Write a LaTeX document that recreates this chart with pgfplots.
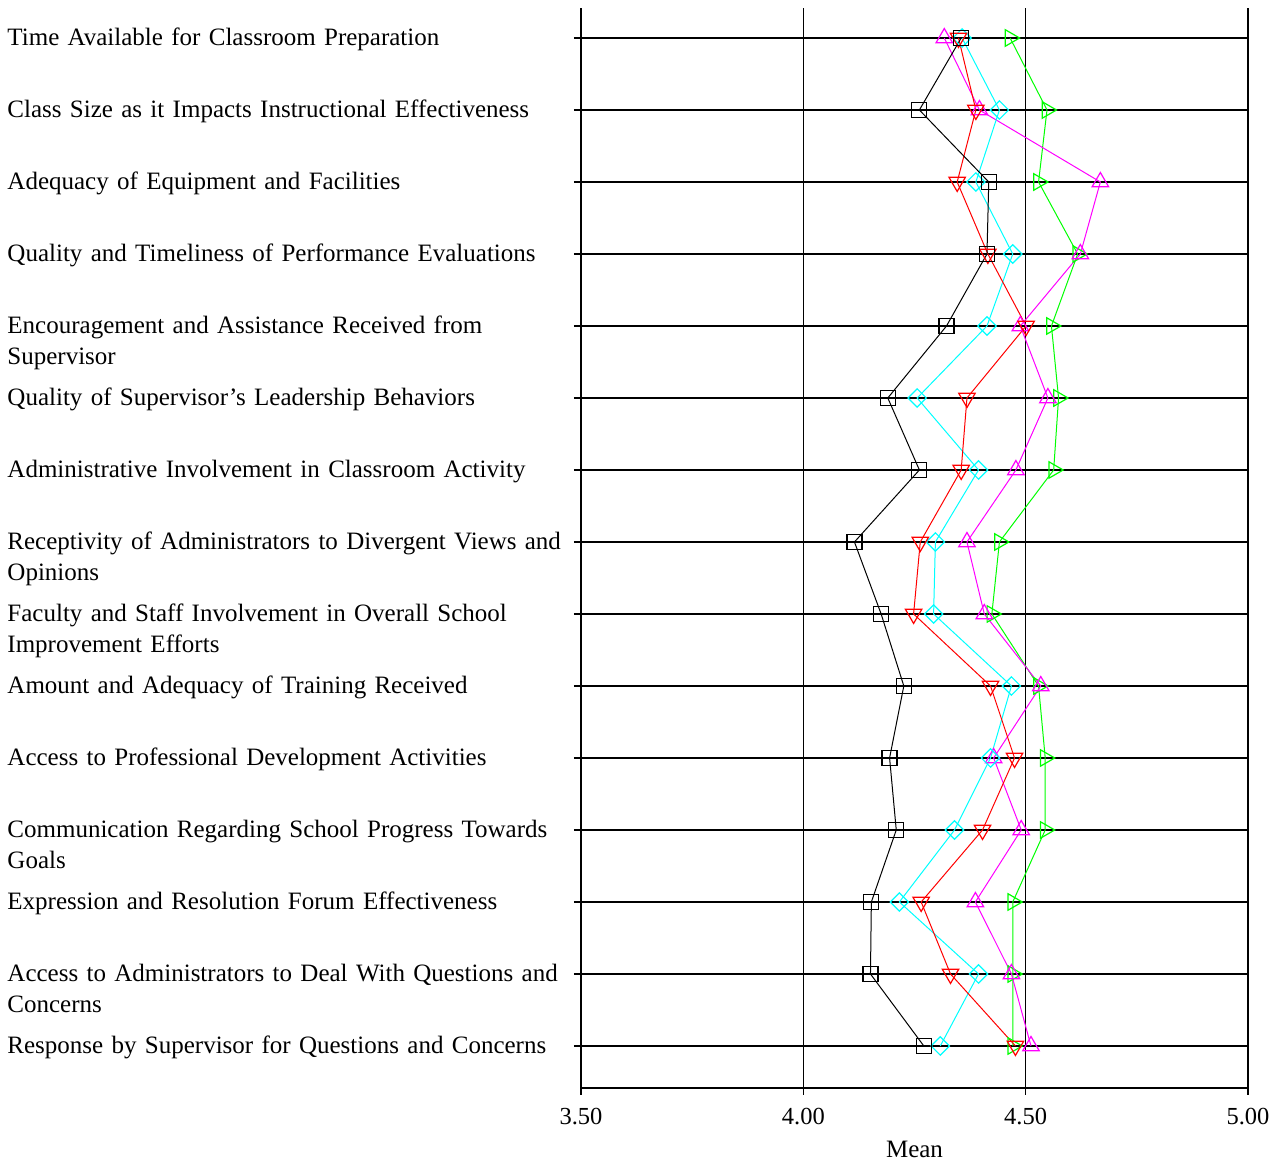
\documentclass[border=0pt]{standalone}
\usepackage{fontspec}
\setmainfont{Liberation Serif}
\usepackage{pgfplots}
\pgfplotsset{compat=1.18}
\definecolor{cgreen}{RGB}{0,255,0}
\definecolor{cmag}{RGB}{255,0,255}
\definecolor{ccyan}{RGB}{0,255,255}
\definecolor{cred}{RGB}{255,0,0}
\begin{document}
\begin{tikzpicture}
\begin{axis}[
 name=ax,
 scale only axis, width=667pt, height=1080pt,
 xmin=3.5, xmax=5, ymin=0.4167, ymax=15.4167,
 axis lines*=left,
 axis line style={black, line width=1.3pt},
 xtick={3.5,4,4.5,5},
 ytick={1,...,15},
 yticklabels={
 Response by Supervisor for Questions and Concerns,
 Access to Administrators to Deal With Questions and\\Concerns,
 Expression and Resolution Forum Effectiveness,
 Communication Regarding School Progress Towards\\Goals,
 Access to Professional Development Activities,
 Amount and Adequacy of Training Received,
 Faculty and Staff Involvement in Overall School\\Improvement Efforts,
 Receptivity of Administrators to Divergent Views and\\Opinions,
 Administrative Involvement in Classroom Activity,
 Quality of Supervisor's Leadership Behaviors,
 Encouragement and Assistance Received from\\Supervisor,
 Quality and Timeliness of Performance Evaluations,
 Adequacy of Equipment and Facilities,
 Class Size as it Impacts Instructional Effectiveness,
 Time Available for Classroom Preparation},
 xmajorgrids, ymajorgrids,
 grid style={black, line width=1.3pt},
 tick style={black, line width=1.3pt},
 tick align=outside,
 major tick length=7pt,
 x tick label style={/pgf/number format/.cd, fixed, fixed zerofill, precision=2, assume math mode=true, /tikz/.cd, font=\fontsize{24.5}{29}\selectfont, yshift=-10pt},
 y tick label style={font=\fontsize{25}{31}\selectfont, anchor=base east, text width=563pt, align=left, yshift=-8pt},
 xlabel={Mean},
 xlabel style={font=\fontsize{25}{29}\selectfont, yshift=-9pt},
 clip=false,
]
\addplot[cgreen, line width=1pt, mark=triangle, mark size=9.5pt, mark options={rotate=-90, line width=1.2pt}] coordinates {
(4.471,1) (4.471,2) (4.471,3) (4.544,4) (4.544,5) (4.529,6) (4.424,7) (4.441,8) (4.563,9) (4.574,10) (4.558,11) (4.617,12) (4.529,13) (4.548,14) (4.465,15)};
\addplot[cmag, line width=1pt, mark=triangle, mark size=9.5pt, mark options={line width=1.2pt}] coordinates {
(4.512,1) (4.468,2) (4.387,3) (4.490,4) (4.428,5) (4.534,6) (4.407,7) (4.368,8) (4.478,9) (4.550,10) (4.488,11) (4.623,12) (4.668,13) (4.396,14) (4.317,15)};
\addplot[ccyan, line width=1pt, mark=square, mark size=6.5pt, mark options={rotate=45, line width=1.2pt}] coordinates {
(4.308,1) (4.394,2) (4.216,3) (4.340,4) (4.421,5) (4.468,6) (4.293,7) (4.297,8) (4.394,9) (4.256,10) (4.413,11) (4.471,12) (4.388,13) (4.441,14) (4.357,15)};
\addplot[cred, line width=1pt, mark=triangle, mark size=9.5pt, mark options={rotate=180, line width=1.2pt}] coordinates {
(4.477,1) (4.331,2) (4.265,3) (4.403,4) (4.475,5) (4.421,6) (4.248,7) (4.263,8) (4.355,9) (4.368,10) (4.501,11) (4.415,12) (4.346,13) (4.388,14) (4.349,15)};
\addplot[black, line width=1pt, mark=square, mark size=7.5pt, mark options={line width=1.2pt}] coordinates {
(4.271,1) (4.151,2) (4.153,3) (4.209,4) (4.194,5) (4.226,6) (4.175,7) (4.115,8) (4.261,9) (4.190,10) (4.322,11) (4.413,12) (4.417,13) (4.261,14) (4.355,15)};
\end{axis}
\path ([xshift=-581pt,yshift=-75pt]ax.south west) rectangle ([xshift=29pt,yshift=8pt]ax.north east);
\end{tikzpicture}
\end{document}
